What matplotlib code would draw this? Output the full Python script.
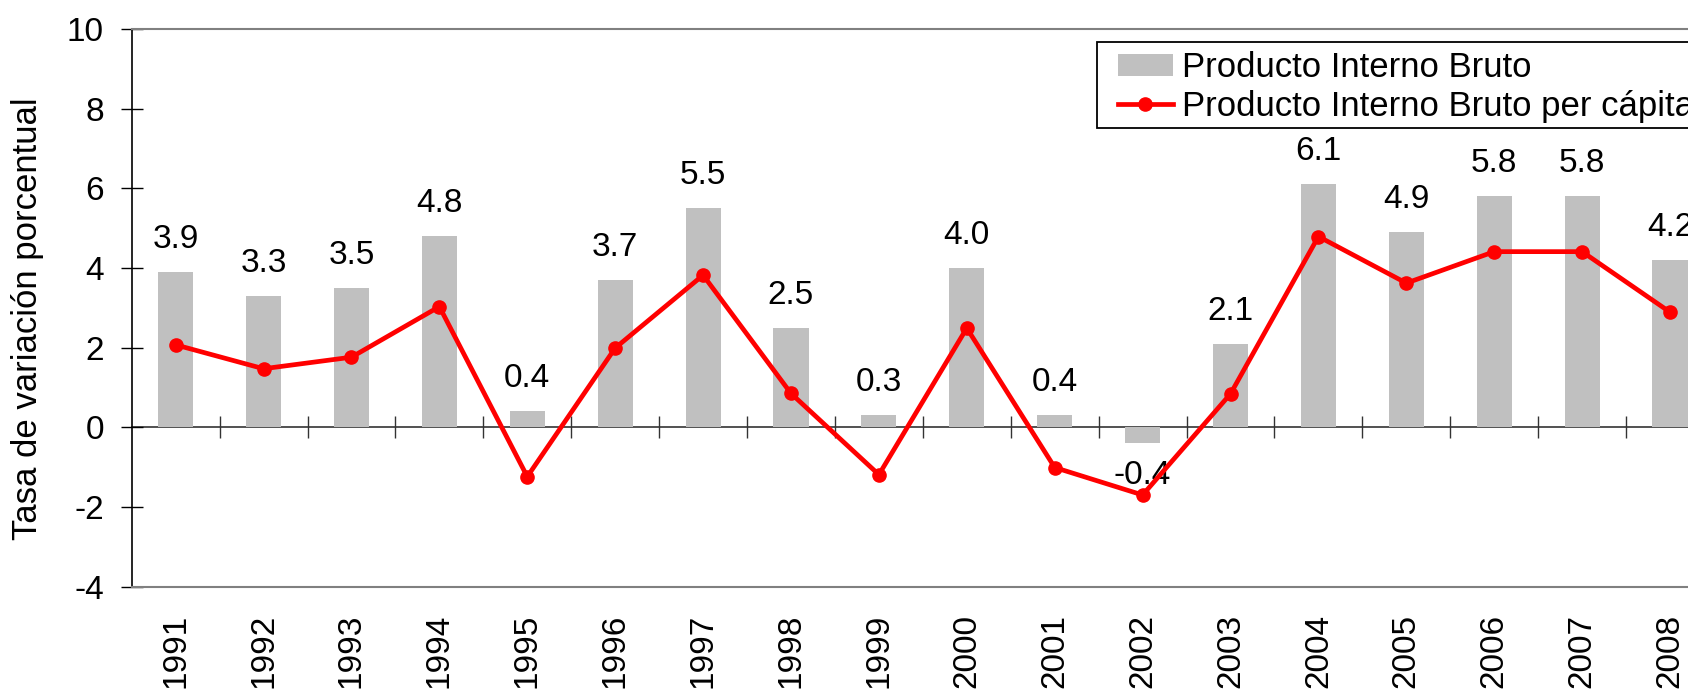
import matplotlib
matplotlib.use("Agg")
import matplotlib.pyplot as plt
from matplotlib.patches import Rectangle
from matplotlib.lines import Line2D
from matplotlib.patches import Patch

plt.rcParams['font.family'] = ['Liberation Sans', 'DejaVu Sans']

years = ['1991', '1992', '1993', '1994', '1995', '1996', '1997', '1998', '1999',
         '2000', '2001', '2002', '2003', '2004', '2005', '2006', '2007', '2008']
pib = [3.9, 3.3, 3.5, 4.8, 0.4, 3.7, 5.5, 2.5, 0.3,
       4.0, 0.3, -0.4, 2.1, 6.1, 4.9, 5.8, 5.8, 4.2]
pib_labels = ['3.9', '3.3', '3.5', '4.8', '0.4', '3.7', '5.5', '2.5', '0.3',
              '4.0', '0.4', '-0.4', '2.1', '6.1', '4.9', '5.8', '5.8', '4.2']
pib_pc = [2.07, 1.47, 1.76, 3.03, -1.24, 1.99, 3.82, 0.85, -1.19,
          2.49, -1.01, -1.70, 0.84, 4.79, 3.62, 4.41, 4.41, 2.89]

W, H = 1688, 691
fig = plt.figure(figsize=(W / 100, H / 100), dpi=100)

left, right, top, bottom = 131.7, 1714.0, 29.0, 586.6
ax = fig.add_axes([left / W, 1 - bottom / H, (right - left) / W, (bottom - top) / H])

x = list(range(len(years)))
FS = 24

ax.bar(x, pib, width=0.40, color='#C0C0C0', zorder=2)
ax.plot(x, pib_pc, color='#FF0000', lw=3.4, marker='o', markersize=9.5, zorder=4)

for xi, v, lab in zip(x, pib, pib_labels):
    off = 23.4 if v >= 0 else -23.0
    ax.annotate(lab, (xi, v), xytext=(0, off), textcoords='offset points',
                ha='center', va='center', fontsize=FS, color='black', zorder=3)

ax.set_xlim(-0.5, len(years) - 0.5)
ax.set_ylim(-4, 10)
ax.set_yticks(range(-4, 11, 2))
ax.set_yticklabels([str(v) for v in range(-4, 11, 2)], fontsize=FS)
ax.tick_params(axis='y', direction='inout', length=16, width=1, color='black', pad=12)

ax.set_xticks(x)
ax.set_xticklabels(years, rotation=90, fontsize=FS)
ax.tick_params(axis='x', length=0, pad=19.5)

for s in ['top', 'bottom']:
    ax.spines[s].set_color('#808080')
    ax.spines[s].set_linewidth(1.5)
ax.spines['right'].set_visible(False)
ax.spines['left'].set_color('black')
ax.spines['left'].set_linewidth(1.2)

# zero line with category-boundary ticks
sec = ax.secondary_xaxis(4 / 14)
sec.set_xticks([i + 0.5 for i in range(len(years) - 1)])
sec.set_xticklabels([])
sec.tick_params(direction='inout', length=15.6, width=1, color='#333333')
sec.spines['bottom'].set_color('#333333')
sec.spines['bottom'].set_linewidth(1.2)

fig.text(27.5 / W, 1 - 318.5 / H, 'Tasa de variación porcentual', rotation=90,
         ha='center', va='center', fontsize=25)

# legend frame
fig.add_artist(Rectangle((1096.7 / W, 1 - 128.3 / H), (1720 - 1096.7) / W, (128.3 - 41.7) / H,
                         transform=fig.transFigure, facecolor='white', edgecolor='black',
                         lw=1.3, zorder=5))
handles = [Patch(facecolor='#C0C0C0', edgecolor='none'),
           Line2D([], [], color='#FF0000', lw=3.4, marker='o', markersize=9.5)]
leg = fig.legend(handles, ['Producto Interno Bruto', 'Producto Interno Bruto per cápita'],
                 loc='upper left', bbox_to_anchor=(1118 / W, 1 - 51.3 / H),
                 frameon=False, fontsize=25, borderpad=0, borderaxespad=0,
                 handlelength=1.58, handletextpad=0.25, labelspacing=0.17,
                 handleheight=0.62)
leg.set_zorder(6)

fig.savefig('out.png', dpi=100)
